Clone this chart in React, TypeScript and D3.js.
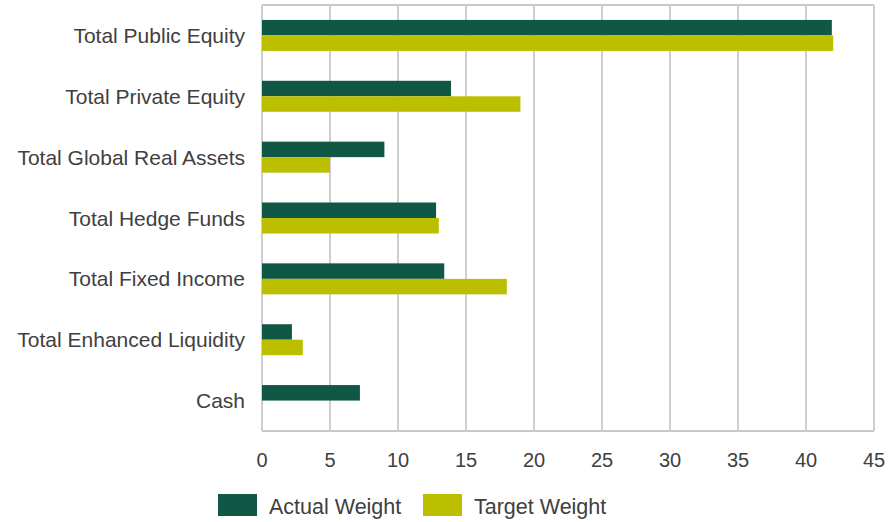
import React from "react";
import * as d3 from "d3";

const categories = [
  "Total Public Equity",
  "Total Private Equity",
  "Total Global Real Assets",
  "Total Hedge Funds",
  "Total Fixed Income",
  "Total Enhanced Liquidity",
  "Cash",
];
const actualWeight = [41.9, 13.9, 9.0, 12.8, 13.4, 2.2, 7.2];
const targetWeight = [42.0, 19.0, 5.0, 13.0, 18.0, 3.0, 0];
const seriesNames = ["Actual Weight", "Target Weight"];
const xTicks = [0, 5, 10, 15, 20, 25, 30, 35, 40, 45];

const W = 888;
const H = 522;
const M = { left: 262, right: 874, top: 5, bottom: 431 };
const COLORS = ["#115745", "#BCBF00"];
const GRID = "#C9C9C9";
const TEXT = "#404040";
const FONT = "'Liberation Sans', Arial, sans-serif";

export default function App() {
  const x = d3.scaleLinear().domain([0, 45]).range([M.left, M.right]);
  const y = d3.scaleBand<string>().domain(categories).range([M.top, M.bottom]).padding(0);
  const barH = 15.5;
  const series = [actualWeight, targetWeight];

  return (
    <svg
      width={W}
      height={H}
      style={{ position: "absolute", left: 0, top: 0, display: "block" }}
      fontFamily={FONT}
    >
      <rect x={0} y={0} width={W} height={H} fill="#fff" />
      {xTicks.map((t) => (
        <line key={"g" + t} x1={x(t)} x2={x(t)} y1={M.top} y2={M.bottom} stroke={GRID} strokeWidth={1.8} />
      ))}
      <line x1={M.left} x2={M.right} y1={M.top} y2={M.top} stroke={GRID} strokeWidth={1.8} />
      <line x1={M.left} x2={M.right} y1={M.bottom} y2={M.bottom} stroke={GRID} strokeWidth={1.8} />
      {categories.map((c, i) => {
        const cy = (y(c) as number) + y.bandwidth() / 2;
        return series.map((s, k) => (
          <rect
            key={c + k}
            x={x(0)}
            y={cy - barH + k * barH}
            width={x(s[i]) - x(0)}
            height={barH}
            fill={COLORS[k]}
          />
        ));
      })}
      {categories.map((c) => (
        <text
          key={"l" + c}
          x={M.left - 17}
          y={(y(c) as number) + y.bandwidth() / 2}
          dy="0.36em"
          textAnchor="end"
          fontSize={21}
          fill={TEXT}
        >
          {c}
        </text>
      ))}
      {xTicks.map((t) => (
        <text key={"t" + t} x={x(t)} y={467} textAnchor="middle" fontSize={20} fill={TEXT}>
          {t}
        </text>
      ))}
      {seriesNames.map((n, k) => {
        const lx = [218, 423][k];
        return (
          <g key={n}>
            <rect x={lx} y={494} width={39} height={22} fill={COLORS[k]} />
            <text x={lx + 51} y={514} fontSize={21.5} fill={TEXT}>
              {n}
            </text>
          </g>
        );
      })}
    </svg>
  );
}
